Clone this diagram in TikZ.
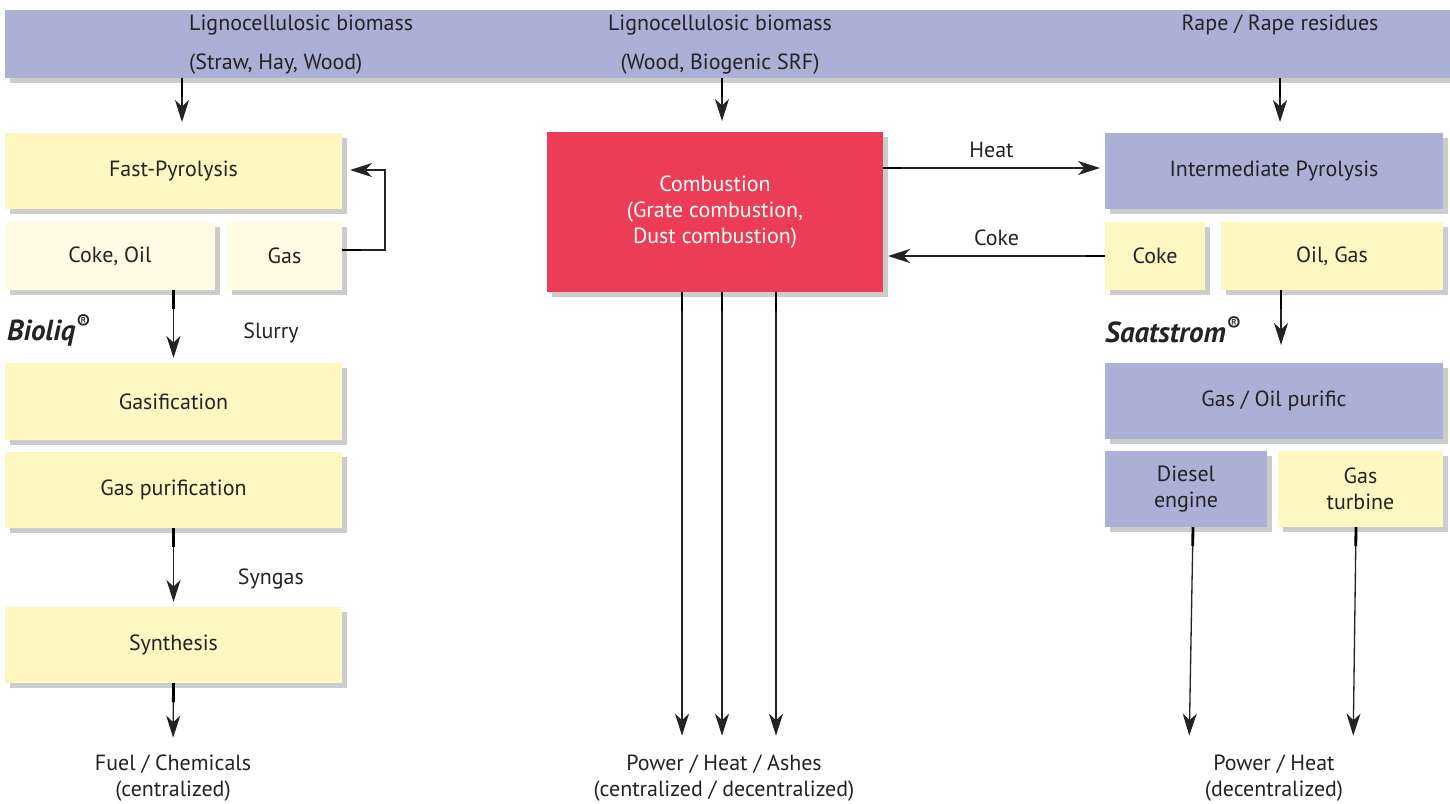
\documentclass[tikz,border=0pt]{standalone}
\usepackage{fontspec}
\setmainfont{PT Sans}
\usepackage{xcolor}
\definecolor{lavender}{RGB}{170,176,214}
\definecolor{paleyellow}{RGB}{255,247,193}
\definecolor{creamyellow}{RGB}{255,251,228}
\definecolor{combred}{RGB}{237,61,86}
\definecolor{inkgray}{RGB}{35,35,35}
\usepackage{tikz}
\usetikzlibrary{
  arrows.meta,
  positioning,
  calc,
  shadows
}

\begin{document}
\begin{tikzpicture}[
  x=0.2mm, y=-0.2mm,
  font=\fontsize{12.5}{14.8}\selectfont, text=inkgray,
  box/.style={rectangle, inner sep=2pt, outer sep=0pt, align=center, drop shadow={shadow xshift=0.9mm, shadow yshift=-1mm, fill=black, opacity=0.2}},
  sz/.style 2 args={minimum width=#1*0.2mm, minimum height=#2*0.2mm},
  lavbox/.style={box, fill=lavender},
  yelbox/.style={box, fill=paleyellow},
  crembox/.style={box, fill=creamyellow},
  redbox/.style={box, fill=combred, text=white},
  arr/.style={-{Stealth[length=4.4mm, width=2.8mm, inset=1.3mm]}, line width=0.75pt, draw=inkgray,
    postaction={draw=black, arrows={-}, line width=1.6pt, dash pattern=on 3.8mm off 400mm}},
  lbl/.style={align=center, inner sep=1pt},
  brand/.style={font=\fontsize{16.5}{19}\selectfont\bfseries\itshape, anchor=west}
]
  \useasboundingbox (0,0) rectangle (1450,803);

  % feedstock band
  \node[lavbox, sz={1445}{68}] (band) at (727.5,44) {};
  \node[anchor=west] (lignoA) at (183,25) {Lignocellulosic biomass};
  \node[anchor=west] (strawA) at (183,64) {(Straw, Hay, Wood)};
  \node (lignoB) at (720,25) {Lignocellulosic biomass};
  \node (woodB) at (720,64) {(Wood, Biogenic SRF)};
  \node (rape) at (1280,25) {Rape / Rape residues};

  % Bioliq route
  \node[yelbox, sz={337}{76}] (fastpyro) at (173.5,171) {Fast-Pyrolysis};
  \node[crembox, sz={210}{68}] (cokeoil) at (110,256) {Coke, Oil};
  \node[crembox, sz={115}{68}] (gasL) at (284.5,256) {Gas};
  \node[brand] (bioliq) at (1,330) {Bioliq\textsuperscript{\textregistered}};
  \node[yelbox, sz={337}{77}] (gasif) at (173.5,401.5) {Gasification};
  \node[yelbox, sz={337}{76}] (gaspur) at (173.5,490) {Gas purification};
  \node[yelbox, sz={337}{76}] (synth) at (173.5,645) {Synthesis};
  \node[lbl] (fuel) at (173,778) {Fuel / Chemicals\\(centralized)};

  % combustion
  \node[redbox, sz={336}{160}] (comb) at (715,212) {Combustion\\(Grate combustion,\\Dust combustion)};
  \node[lbl] (pwrA) at (724,778) {Power / Heat / Ashes\\(centralized / decentralized)};

  % Saatstrom route
  \node[lavbox, sz={338}{76}] (ipyro) at (1274,171) {Intermediate Pyrolysis};
  \node[yelbox, sz={100}{68}] (cokeR) at (1155,256) {Coke};
  \node[yelbox, sz={222}{68}] (oilgas) at (1332,256) {Oil, Gas};
  \node[brand] (saat) at (1099,330) {Saatstrom\textsuperscript{\textregistered}};
  \node[lavbox, sz={338}{76}] (purific) at (1274,401) {Gas / Oil purific};
  \node[lavbox, sz={162}{76}] (diesel) at (1186,489) {Diesel\\engine};
  \node[yelbox, sz={165}{76}] (turbine) at (1360.5,489) {Gas\\turbine};
  \node[lbl] (pwrB) at (1274,778) {Power / Heat\\(decentralized)};

  % connectors
  \draw[arr, shorten >=2.2mm] ([xshift=1.7mm]band.south -| fastpyro.north) -- ([xshift=1.7mm]fastpyro.north);
  \draw[arr, shorten >=2.2mm] ([xshift=1.4mm]band.south -| comb.north) -- ([xshift=1.4mm]comb.north);
  \draw[arr, shorten >=2.2mm] ([xshift=1.2mm]band.south -| ipyro.north) -- ([xshift=1.2mm]ipyro.north);

  \draw[arr] ([yshift=1.2mm]gasL.east) -- ++(43,0) |- ([xshift=1.6mm, yshift=0.2mm]fastpyro.east);
  \draw[arr, shorten >=1mm] (cokeoil.south -| gasif.north) -- node[lbl, right=13.5mm, pos=0.59] {Slurry} (gasif.north);
  \draw[arr, shorten >=1mm] (gaspur.south) -- node[lbl, right=12.4mm, pos=0.64] {Syngas} (synth.north);
  \draw[arr, shorten >=3mm] (synth.south) -- (fuel.north);

  \draw[arr] ([yshift=0.6mm]comb.east |- ipyro.west) -- node[lbl, above=1.5mm] {Heat} ([xshift=-1mm, yshift=0.6mm]ipyro.west);
  \draw[arr] (cokeR.west) -- node[lbl, above=1.5mm] {Coke} ([xshift=1mm]comb.east |- cokeR.west);

  \draw[arr, shorten >=3.4mm] ([xshift=-6.6mm]comb.south) -- ([xshift=-6.6mm]comb.south |- pwrA.north);
  \draw[arr, shorten >=3.4mm] ([xshift=1.4mm]comb.south) -- ([xshift=1.4mm]comb.south |- pwrA.north);
  \draw[arr, shorten >=3.4mm] ([xshift=12.2mm]comb.south) -- ([xshift=12.2mm]comb.south |- pwrA.north);

  \draw[arr, shorten >=3.6mm] ([xshift=1.4mm]purific.north |- oilgas.south) -- ([xshift=1.4mm]purific.north);
  \draw[arr, shorten >=3.4mm] ($(diesel.south)+(7,0)$) -- ($(pwrB.north)+(-85,0)$);
  \draw[arr, shorten >=3.4mm] ($(turbine.south)+(-4.5,0)$) -- ($(pwrB.north)+(79,0)$);
\end{tikzpicture}
\end{document}
